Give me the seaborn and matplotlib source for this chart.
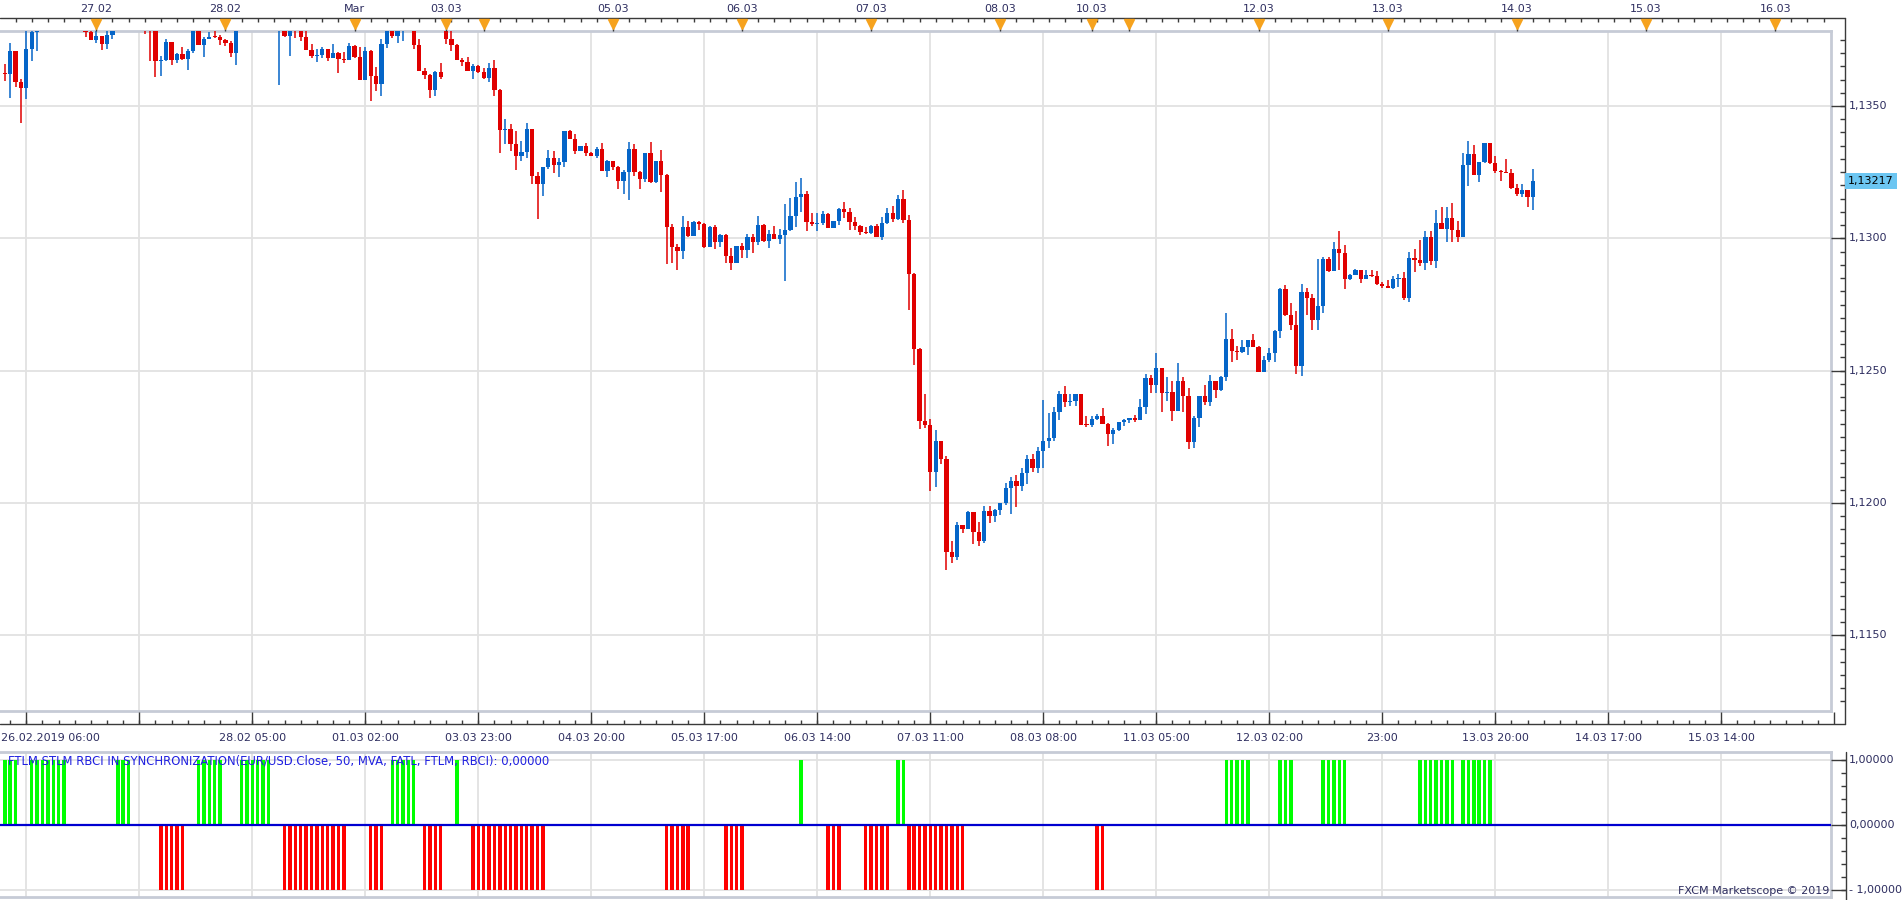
import numpy as np
import pandas as pd
import matplotlib
matplotlib.use("Agg")
import matplotlib.pyplot as plt
import matplotlib.transforms as mtransforms
import seaborn as sns

# ---------------- data (EUR/USD hourly) ----------------
first_open = 1.13626
gap_opens = {82: 1.13800}          # Sunday re-open after the weekend gap

close = [
    1.13622, 1.13708, 1.13592, 1.13569, 1.13715, 1.13780, 1.13840, 1.13950, 1.14020, 1.14100,
    1.14050, 1.14080, 1.14000, 1.13920, 1.13860, 1.13779, 1.13751, 1.13764, 1.13736, 1.13768,
    1.13790, 1.13840, 1.13880, 1.13860, 1.13900, 1.13870, 1.13820, 1.13800, 1.13671, 1.13675,
    1.13742, 1.13675, 1.13696, 1.13679, 1.13708, 1.13790, 1.13732, 1.13753, 1.13761, 1.13759,
    1.13751, 1.13739, 1.13702, 1.13790, 1.13860, 1.13920, 1.13900, 1.13950, 1.13930, 1.13900,
    1.13810, 1.13830, 1.13764, 1.13795, 1.13788, 1.13761, 1.13712, 1.13689, 1.13693, 1.13715,
    1.13683, 1.13700, 1.13678, 1.13675, 1.13727, 1.13685, 1.13599, 1.13708, 1.13615, 1.13584,
    1.13734, 1.13790, 1.13764, 1.13790, 1.13800, 1.13820, 1.13730, 1.13632, 1.13617, 1.13562,
    1.13628, 1.13610, 1.13753, 1.13730, 1.13675, 1.13668, 1.13634, 1.13651, 1.13628, 1.13607,
    1.13644, 1.13562, 1.13411, 1.13413, 1.13357, 1.13312, 1.13326, 1.13413, 1.13237, 1.13207,
    1.13270, 1.13304, 1.13278, 1.13288, 1.13406, 1.13377, 1.13330, 1.13349, 1.13324, 1.13312,
    1.13338, 1.13256, 1.13292, 1.13271, 1.13218, 1.13251, 1.13338, 1.13252, 1.13224, 1.13322,
    1.13214, 1.13292, 1.13241, 1.13044, 1.12969, 1.12953, 1.13043, 1.13009, 1.13062, 1.13054,
    1.12967, 1.13043, 1.12987, 1.13013, 1.12935, 1.12908, 1.12971, 1.12956, 1.13005, 1.12987,
    1.13050, 1.12991, 1.13016, 1.12997, 1.13013, 1.13031, 1.13084, 1.13156, 1.13168, 1.13063,
    1.13054, 1.13058, 1.13092, 1.13039, 1.13065, 1.13111, 1.13100, 1.13062, 1.13047, 1.13024,
    1.13020, 1.13047, 1.13005, 1.13058, 1.13096, 1.13073, 1.13149, 1.13070, 1.12866, 1.12583,
    1.12308, 1.12296, 1.12116, 1.12236, 1.12168, 1.11815, 1.11796, 1.11916, 1.11901, 1.11965,
    1.11891, 1.11857, 1.11969, 1.11951, 1.11972, 1.11999, 1.12055, 1.12082, 1.12063, 1.12112,
    1.12165, 1.12132, 1.12198, 1.12236, 1.12244, 1.12345, 1.12413, 1.12383, 1.12387, 1.12410,
    1.12296, 1.12294, 1.12316, 1.12328, 1.12299, 1.12262, 1.12276, 1.12306, 1.12313, 1.12321,
    1.12313, 1.12362, 1.12471, 1.12445, 1.12509, 1.12415, 1.12419, 1.12347, 1.12460, 1.12404,
    1.12231, 1.12321, 1.12404, 1.12381, 1.12460, 1.12426, 1.12475, 1.12618, 1.12573, 1.12570,
    1.12591, 1.12614, 1.12591, 1.12494, 1.12539, 1.12565, 1.12648, 1.12810, 1.12712, 1.12674,
    1.12516, 1.12798, 1.12776, 1.12693, 1.12746, 1.12922, 1.12875, 1.12960, 1.12945, 1.12845,
    1.12862, 1.12881, 1.12845, 1.12862, 1.12856, 1.12826, 1.12821, 1.12814, 1.12846, 1.12850,
    1.12776, 1.12926, 1.12918, 1.12907, 1.13005, 1.12914, 1.13058, 1.13035, 1.13077, 1.13031,
    1.13005, 1.13277, 1.13319, 1.13239, 1.13288, 1.13360, 1.13285, 1.13254, 1.13252, 1.13247,
    1.13190, 1.13168, 1.13183, 1.13156, 1.13217,
]
high = [
    1.13657, 1.13738, 1.13708, 1.13602, 1.13800, 1.13820, 1.13860, 1.13980, 1.14060, 1.14140,
    1.14160, 1.14120, 1.14100, 1.14020, 1.13940, 1.13880, 1.13790, 1.13785, 1.13766, 1.13783,
    1.13810, 1.13860, 1.13910, 1.13920, 1.13940, 1.13950, 1.13890, 1.13880, 1.13810, 1.13689,
    1.13753, 1.13742, 1.13702, 1.13723, 1.13715, 1.13810, 1.13800, 1.13761, 1.13781, 1.13783,
    1.13768, 1.13753, 1.13746, 1.13810, 1.13900, 1.13950, 1.13970, 1.13980, 1.14000, 1.13960,
    1.13920, 1.13850, 1.13840, 1.13810, 1.13810, 1.13800, 1.13783, 1.13734, 1.13715, 1.13723,
    1.13715, 1.13734, 1.13704, 1.13704, 1.13738, 1.13730, 1.13723, 1.13723, 1.13712, 1.13647,
    1.13753, 1.13810, 1.13800, 1.13800, 1.13820, 1.13840, 1.13830, 1.13753, 1.13644, 1.13621,
    1.13632, 1.13662, 1.13810, 1.13783, 1.13734, 1.13683, 1.13685, 1.13659, 1.13655, 1.13644,
    1.13662, 1.13675, 1.13564, 1.13451, 1.13432, 1.13406, 1.13368, 1.13436, 1.13413, 1.13251,
    1.13270, 1.13334, 1.13330, 1.13305, 1.13406, 1.13411, 1.13394, 1.13349, 1.13360, 1.13326,
    1.13345, 1.13360, 1.13296, 1.13292, 1.13273, 1.13258, 1.13364, 1.13356, 1.13254, 1.13322,
    1.13364, 1.13292, 1.13334, 1.13243, 1.13054, 1.12979, 1.13084, 1.13067, 1.13065, 1.13065,
    1.13058, 1.13047, 1.13050, 1.13016, 1.13016, 1.12963, 1.12971, 1.12982, 1.13016, 1.13016,
    1.13084, 1.13054, 1.13031, 1.13047, 1.13035, 1.13130, 1.13152, 1.13213, 1.13228, 1.13179,
    1.13096, 1.13096, 1.13103, 1.13096, 1.13065, 1.13115, 1.13137, 1.13115, 1.13081, 1.13050,
    1.13043, 1.13050, 1.13054, 1.13081, 1.13115, 1.13122, 1.13164, 1.13182, 1.13088, 1.12869,
    1.12587, 1.12413, 1.12319, 1.12274, 1.12236, 1.12176, 1.11856, 1.11927, 1.11916, 1.11969,
    1.11965, 1.11927, 1.11987, 1.11987, 1.11976, 1.11999, 1.12074, 1.12097, 1.12104, 1.12134,
    1.12180, 1.12187, 1.12210, 1.12391, 1.12339, 1.12364, 1.12425, 1.12443, 1.12413, 1.12413,
    1.12410, 1.12330, 1.12330, 1.12335, 1.12358, 1.12302, 1.12283, 1.12306, 1.12317, 1.12321,
    1.12332, 1.12392, 1.12486, 1.12482, 1.12565, 1.12509, 1.12475, 1.12460, 1.12528, 1.12475,
    1.12434, 1.12328, 1.12404, 1.12445, 1.12482, 1.12460, 1.12479, 1.12719, 1.12659, 1.12595,
    1.12614, 1.12614, 1.12640, 1.12595, 1.12554, 1.12584, 1.12655, 1.12813, 1.12825, 1.12757,
    1.12727, 1.12828, 1.12813, 1.12791, 1.12922, 1.12930, 1.12930, 1.12986, 1.13028, 1.12975,
    1.12867, 1.12885, 1.12881, 1.12881, 1.12881, 1.12877, 1.12836, 1.12844, 1.12859, 1.12864,
    1.12873, 1.12948, 1.12960, 1.12995, 1.13028, 1.13028, 1.13107, 1.13118, 1.13118, 1.13134,
    1.13065, 1.13322, 1.13368, 1.13353, 1.13288, 1.13360, 1.13360, 1.13311, 1.13258, 1.13300,
    1.13262, 1.13205, 1.13205, 1.13183, 1.13262,
]
low = [
    1.13596, 1.13531, 1.13571, 1.13437, 1.13528, 1.13671, 1.13709, 1.13820, 1.13920, 1.14000,
    1.14020, 1.14000, 1.13960, 1.13880, 1.13820, 1.13762, 1.13750, 1.13737, 1.13713, 1.13717,
    1.13753, 1.13785, 1.13820, 1.13830, 1.13840, 1.13830, 1.13771, 1.13671, 1.13611, 1.13615,
    1.13671, 1.13656, 1.13664, 1.13675, 1.13637, 1.13700, 1.13730, 1.13686, 1.13752, 1.13758,
    1.13732, 1.13728, 1.13686, 1.13656, 1.13785, 1.13840, 1.13870, 1.13880, 1.13900, 1.13880,
    1.13800, 1.13579, 1.13760, 1.13689, 1.13758, 1.13747, 1.13710, 1.13683, 1.13668, 1.13683,
    1.13671, 1.13683, 1.13626, 1.13664, 1.13675, 1.13683, 1.13599, 1.13599, 1.13519, 1.13558,
    1.13539, 1.13720, 1.13757, 1.13738, 1.13747, 1.13790, 1.13715, 1.13632, 1.13603, 1.13531,
    1.13539, 1.13602, 1.13734, 1.13709, 1.13675, 1.13652, 1.13634, 1.13603, 1.13626, 1.13602,
    1.13592, 1.13539, 1.13324, 1.13358, 1.13331, 1.13259, 1.13292, 1.13305, 1.13205, 1.13073,
    1.13160, 1.13262, 1.13248, 1.13233, 1.13271, 1.13377, 1.13319, 1.13330, 1.13311, 1.13310,
    1.13305, 1.13256, 1.13233, 1.13258, 1.13188, 1.13169, 1.13145, 1.13237, 1.13188, 1.13213,
    1.13210, 1.13210, 1.13176, 1.12903, 1.12908, 1.12880, 1.12923, 1.13006, 1.13009, 1.13031,
    1.12963, 1.12967, 1.12960, 1.12967, 1.12908, 1.12880, 1.12908, 1.12926, 1.12926, 1.12946,
    1.12975, 1.12986, 1.12963, 1.12997, 1.12979, 1.12839, 1.13028, 1.13043, 1.13099, 1.13028,
    1.13047, 1.13028, 1.13050, 1.13039, 1.13039, 1.13052, 1.13077, 1.13031, 1.13031, 1.13013,
    1.13016, 1.13016, 1.13005, 1.12994, 1.13054, 1.13062, 1.13069, 1.13059, 1.12730, 1.12523,
    1.12281, 1.12285, 1.12044, 1.12059, 1.12146, 1.11747, 1.11774, 1.11785, 1.11886, 1.11901,
    1.11844, 1.11838, 1.11849, 1.11925, 1.11928, 1.11955, 1.11991, 1.11959, 1.11985, 1.12044,
    1.12072, 1.12119, 1.12112, 1.12131, 1.12206, 1.12236, 1.12312, 1.12361, 1.12368, 1.12368,
    1.12296, 1.12289, 1.12289, 1.12312, 1.12299, 1.12217, 1.12224, 1.12273, 1.12292, 1.12303,
    1.12307, 1.12313, 1.12336, 1.12415, 1.12415, 1.12343, 1.12385, 1.12310, 1.12347, 1.12343,
    1.12204, 1.12209, 1.12287, 1.12370, 1.12367, 1.12396, 1.12422, 1.12460, 1.12531, 1.12539,
    1.12565, 1.12561, 1.12591, 1.12494, 1.12494, 1.12531, 1.12531, 1.12625, 1.12708, 1.12655,
    1.12486, 1.12479, 1.12712, 1.12655, 1.12655, 1.12719, 1.12871, 1.12875, 1.12881, 1.12807,
    1.12841, 1.12862, 1.12833, 1.12845, 1.12853, 1.12822, 1.12814, 1.12814, 1.12809, 1.12817,
    1.12768, 1.12758, 1.12874, 1.12897, 1.12879, 1.12899, 1.12889, 1.13035, 1.12987, 1.12987,
    1.12987, 1.13005, 1.13199, 1.13239, 1.13213, 1.13285, 1.13281, 1.13247, 1.13217, 1.13246,
    1.13186, 1.13160, 1.13157, 1.13118, 1.13107,
]
# FTLM STLM RBCI synchronization signal (+1 / 0 / -1) per candle
signal = [
    1, 1, 1, 0, 0, 1, 1, 1, 1, 1, 1, 1, 0, 0, 0, 0, 0, 0, 0, 0,
    0, 1, 1, 1, 0, 0, 0, 0, 0, -1, -1, -1, -1, -1, 0, 0, 1, 1, 1, 1,
    1, 0, 0, 0, 1, 1, 1, 1, 1, 1, 0, 0, -1, -1, -1, -1, -1, -1, -1, -1,
    -1, -1, -1, -1, 0, 0, 0, 0, -1, -1, -1, 0, 1, 1, 1, 1, 1, 0, -1, -1,
    -1, -1, 0, 0, 1, 0, 0, -1, -1, -1, -1, -1, -1, -1, -1, -1, -1, -1, -1, -1,
    -1, 0, 0, 0, 0, 0, 0, 0, 0, 0, 0, 0, 0, 0, 0, 0, 0, 0, 0, 0,
    0, 0, 0, -1, -1, -1, -1, -1, 0, 0, 0, 0, 0, 0, -1, -1, -1, -1, 0, 0,
    0, 0, 0, 0, 0, 0, 0, 0, 1, 0, 0, 0, 0, -1, -1, -1, 0, 0, 0, 0,
    -1, -1, -1, -1, -1, 0, 1, 1, -1, -1, -1, -1, -1, -1, -1, -1, -1, -1, -1, 0,
    0, 0, 0, 0, 0, 0, 0, 0, 0, 0, 0, 0, 0, 0, 0, 0, 0, 0, 0, 0,
    0, 0, 0, -1, -1, 0, 0, 0, 0, 0, 0, 0, 0, 0, 0, 0, 0, 0, 0, 0,
    0, 0, 0, 0, 0, 0, 0, 1, 1, 1, 1, 1, 0, 0, 0, 0, 0, 1, 1, 1,
    0, 0, 0, 0, 0, 1, 1, 1, 1, 1, 0, 0, 0, 0, 0, 0, 0, 0, 0, 0,
    0, 0, 0, 1, 1, 1, 1, 1, 1, 1, 0, 1, 1, 1, 1, 1, 1, 0, 0, 0,
    0, 0, 0, 0, 0,
]
last_price = 1.13217
last_price_label = "1,13217"

# date markers on the top strip (candle index of the first candle of each day)
day_marks = [17, 41, 65, 82, 89, 113, 137, 161, 185, 202, 209, 233, 257, 281, 305, 329]
day_labels = ["27.02", "28.02", "Mar", "03.03", "", "05.03", "06.03", "07.03", "08.03",
              "10.03", "", "12.03", "13.03", "14.03", "15.03", "16.03"]
# bottom time axis (every 21 candles)
time_ticks = [4, 25, 46, 67, 88, 109, 130, 151, 172, 193, 214, 235, 256, 277, 298, 319, 340]
time_labels = ["", "", "28.02 05:00", "01.03 02:00", "03.03 23:00", "04.03 20:00",
               "05.03 17:00", "06.03 14:00", "07.03 11:00", "08.03 08:00", "11.03 05:00",
               "12.03 02:00", "23:00", "13.03 20:00", "14.03 17:00", "15.03 14:00", ""]
first_time_label = "26.02.2019 06:00"
price_ticks = [1.1150, 1.1200, 1.1250, 1.1300, 1.1350]
price_labels = ["1,1150", "1,1200", "1,1250", "1,1300", "1,1350"]
ind_ticks = [1.0, 0.0, -1.0]
ind_labels = ["1,00000", "0,00000", "- 1,00000"]
ind_title = "FTLM STLM RBCI IN SYNCHRONIZATION(EUR/USD.Close, 50, MVA, FATL, FTLM, RBCI): 0,00000"
credit = "FXCM Marketscope \u00a9 2019"

# ---------------- style ----------------
W, H, DPI = 1903, 900, 100
sns.set_style("white")
plt.rcParams["font.family"] = ["DejaVu Sans"]
BLUE = "#0565c8"
RED = "#e00000"
GREEN_BAR = "#00ff00"
RED_BAR = "#ff0000"
GRID = "#e2e2e2"
BORDER = "#c6cbd6"
AXC = "#3a3a3a"
TXT = "#2e2e60"
FS = 8

fig = plt.figure(figsize=(W / DPI, H / DPI), dpi=DPI)
fig.patch.set_facecolor("white")

XL = (-0.892, 339.38)
ax = fig.add_axes([0, (H - 711) / H, 1831 / W, 680 / H])
ax2 = fig.add_axes([0, 3 / H, 1831 / W, 145 / H])

# ---------------- candles ----------------
n = len(close)
k = np.arange(n)
c = np.array(close)
hi = np.array(high)
lo = np.array(low)
o = np.array([first_open] + close[:-1])
for i, v in gap_opens.items():
    o[i] = v
cols = np.where(c >= o, BLUE, RED)

for p in price_ticks:
    ax.axhline(p, color=GRID, lw=1.3, zorder=1)
for t in time_ticks:
    ax.axvline(t, color=GRID, lw=1.3, zorder=1)

ax.vlines(k, np.minimum(lo, np.minimum(o, c)), np.maximum(hi, np.maximum(o, c)),
          colors=cols, lw=1.1, zorder=3)
body_lo = np.minimum(o, c)
body_h = np.maximum(np.abs(c - o), 0.00004)
ax.bar(k, body_h, bottom=body_lo, width=0.8, color=cols, linewidth=0, zorder=4)

ax.set_xlim(*XL)
ax.set_ylim(1.112141, 1.137834)
ax.set_xticks([])
ax.set_yticks([])
for s in ["top", "right", "bottom"]:
    ax.spines[s].set_color(BORDER)
    ax.spines[s].set_linewidth(2)
ax.spines["left"].set_visible(False)

# ---------------- indicator panel ----------------
sig_df = pd.DataFrame({"k": k, "v": signal})
sig_df = sig_df[sig_df["v"] != 0].copy()
sig_df["dir"] = np.where(sig_df["v"] > 0, "up", "down")
sns.barplot(data=sig_df, x="k", y="v", hue="dir",
            palette={"up": GREEN_BAR, "down": RED_BAR},
            native_scale=True, width=0.64, dodge=False, errorbar=None,
            legend=False, saturation=1, linewidth=0, ax=ax2, zorder=3)
for t in time_ticks:
    ax2.axvline(t, color=GRID, lw=1.3, zorder=1)
for v in (1.0, -1.0):
    ax2.axhline(v, color=GRID, lw=1.3, zorder=1)
ax2.axhline(0.0, color="#0000d0", lw=1.6, zorder=4)
ax2.set_xlim(*XL)
ax2.set_ylim(-1.108, 1.123)
ax2.set_xticks([])
ax2.set_yticks([])
ax2.set_xlabel("")
ax2.set_ylabel("")
for s in ["top", "right", "bottom"]:
    ax2.spines[s].set_color(BORDER)
    ax2.spines[s].set_linewidth(2)
ax2.spines["left"].set_visible(False)

# ---------------- overlay (frames, ticks, labels) ----------------
ov = fig.add_axes([0, 0, 1, 1])
ov.set_xlim(0, W)
ov.set_ylim(H, 0)
ov.axis("off")
tx = mtransforms.blended_transform_factory(ax.transData, ov.transData)
ty = mtransforms.blended_transform_factory(ov.transData, ax.transData)
ty2 = mtransforms.blended_transform_factory(ov.transData, ax2.transData)

# frame lines
ov.plot([0, 1845], [18, 18], color=AXC, lw=1)
ov.plot([1845, 1845], [18, 724], color=AXC, lw=1)
ov.plot([0, 1845], [724, 724], color=AXC, lw=1)
ov.plot([1846, 1846], [752, 900], color=AXC, lw=1)

# top strip ticks (every 3 hours) and day markers
top_ticks = np.arange(2, 340, 3)
ov.vlines(top_ticks, 18, 22, colors=AXC, lw=1, transform=tx)
ov.vlines(day_marks, 18, 31, colors=AXC, lw=1, transform=tx)
ov.plot(day_marks, [23.5] * len(day_marks), transform=tx, ls="none", marker="v",
        ms=7, color="#f6a21d", mec="#f6a21d", clip_on=False)
for km, lab in zip(day_marks, day_labels):
    if lab:
        ov.text(km, 8.5, lab, transform=tx, ha="center", va="center", fontsize=FS, color=TXT)

# bottom time-axis ticks
bot_ticks = np.arange(1, 340, 3)
ov.vlines(bot_ticks, 720, 724, colors=AXC, lw=1, transform=tx)
ov.vlines(time_ticks, 712, 724, colors=AXC, lw=1, transform=tx)
ov.text(1, 738, first_time_label, ha="left", va="center", fontsize=FS, color=TXT)
for t, lab in zip(time_ticks, time_labels):
    if lab:
        ov.text(t, 738, lab, transform=tx, ha="center", va="center", fontsize=FS, color=TXT)

# right price axis
minor_p = np.arange(1.1125, 1.13785, 0.0005)
ov.hlines(minor_p, 1840, 1845, colors=AXC, lw=1, transform=ty)
ov.hlines(price_ticks, 1831, 1845, colors=AXC, lw=1, transform=ty)
for p, lab in zip(price_ticks, price_labels):
    ov.text(1849, p, lab, transform=ty, ha="left", va="center", fontsize=FS, color=TXT)
ov.text(1848, last_price, last_price_label, transform=ty, ha="left", va="center",
        fontsize=FS, color="black",
        bbox=dict(boxstyle="square,pad=0.28", fc="#6cc6f2", ec="none"))

# indicator right axis
minor_i = np.arange(-1.0, 1.01, 0.2)
ov.hlines(minor_i, 1841, 1846, colors=AXC, lw=1, transform=ty2)
ov.hlines(ind_ticks, 1831, 1846, colors=AXC, lw=1, transform=ty2)
for v, lab in zip(ind_ticks, ind_labels):
    ov.text(1849, v, lab, transform=ty2, ha="left", va="center", fontsize=FS, color=TXT)

ov.text(8, 760.5, ind_title, ha="left", va="center", fontsize=8.4, color="#2020e0")
ov.text(1829, 891, credit, ha="right", va="center", fontsize=FS, color=TXT)

fig.savefig("out.png", dpi=DPI, facecolor="white")
